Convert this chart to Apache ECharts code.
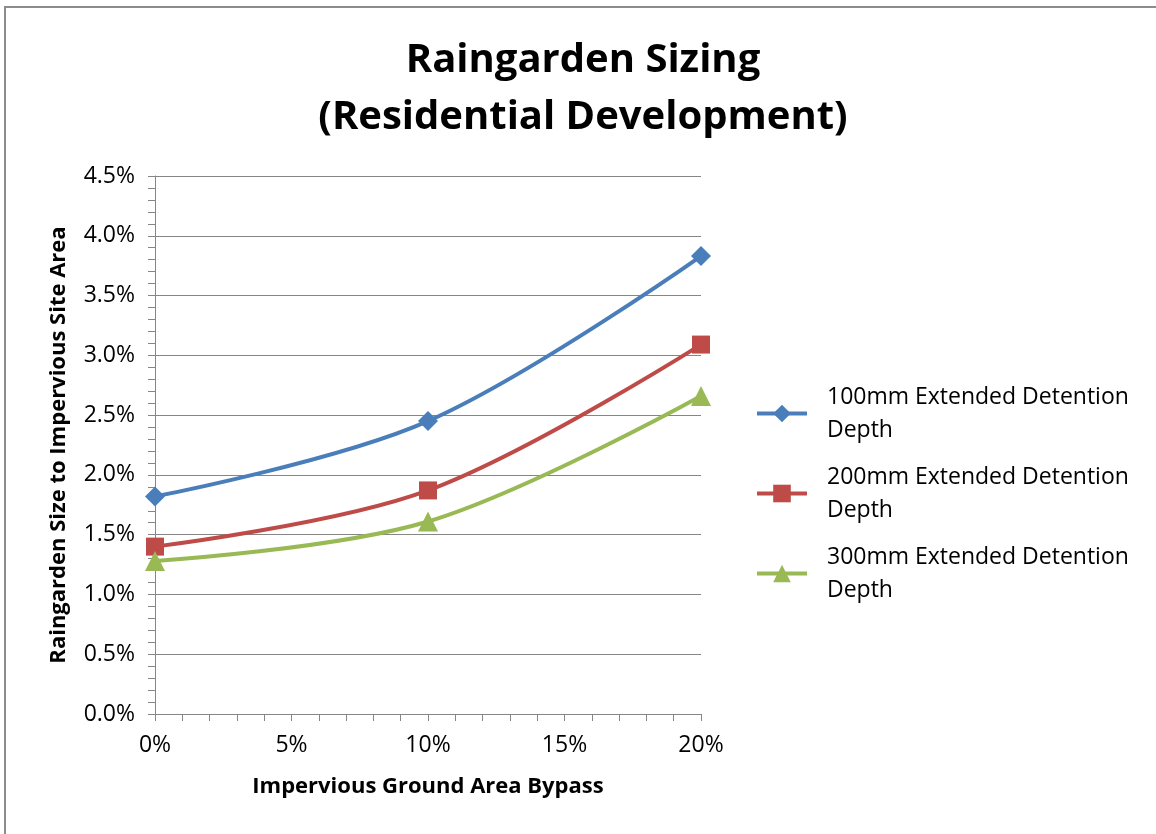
<!DOCTYPE html>
<html>
<head>
<meta charset="utf-8">
<script src="https://cdn.jsdelivr.net/npm/echarts@6/dist/echarts.min.js"></script>
<style>
  html, body { margin: 0; padding: 0; background: #fff; overflow: hidden; }
  #frame { position: absolute; left: 4px; top: 6px; width: 1200px; height: 900px; border: 2px solid #8c8c8c; box-sizing: border-box; }
  #chart { position: absolute; left: 0; top: 0; width: 1156px; height: 834px; }
</style>
</head>
<body>
<div id="frame"></div>
<div id="chart"></div>
<script>
// bypass (% of impervious ground area)
const bypass = [0, 10, 20];
// raingarden size to impervious site area (%)
const depth100 = [1.82, 2.45, 3.83];
const depth200 = [1.40, 1.87, 3.09];
const depth300 = [1.28, 1.61, 2.66];
const seriesNames = [
  '100mm Extended Detention Depth',
  '200mm Extended Detention Depth',
  '300mm Extended Detention Depth'
];

const font = '"Open Sans", Lato, sans-serif';
const axisGray = '#868686';

function pairs(vals) {
  return bypass.map((x, i) => [x, vals[i]]);
}

let myChart = echarts.init(document.getElementById('chart'));
let option = {
  backgroundColor: 'transparent',
  textStyle: { fontFamily: font },
  title: {
    text: 'Raingarden Sizing\n(Residential Development)',
    left: 583,
    textAlign: 'center',
    top: 32,
    padding: 0,
    textStyle: { fontFamily: font, fontSize: 40, fontWeight: 'bold', color: '#000', lineHeight: 57 }
  },
  legend: {
    orient: 'vertical',
    left: 750,
    top: 359,
    itemWidth: 50,
    itemHeight: 22,
    itemGap: -19,
    lineStyle: { width: 4 },
    formatter: function (name) {
      return name.replace(' Depth', '\nDepth');
    },
    textStyle: { fontFamily: font, fontSize: 23, color: '#000', lineHeight: 33, padding: [33, 0, 0, 15] },
    data: seriesNames
  },
  grid: { left: 155, right: 455, top: 176, bottom: 120 },
  xAxis: {
    type: 'value',
    min: 0,
    max: 20,
    interval: 5,
    name: 'Impervious Ground Area Bypass',
    nameLocation: 'middle',
    nameGap: 62,
    nameTextStyle: { fontFamily: font, fontSize: 22, fontWeight: 'bold', color: '#000' },
    axisLine: { show: true, lineStyle: { color: axisGray, width: 1 } },
    axisTick: { show: true, length: 7, lineStyle: { color: axisGray } },
    minorTick: { show: true, splitNumber: 5, length: 7, lineStyle: { color: axisGray } },
    splitLine: { show: false },
    axisLabel: { fontFamily: font, fontSize: 23, color: '#000', margin: 20, formatter: v => v + '%' }
  },
  yAxis: {
    type: 'value',
    min: 0,
    max: 4.5,
    interval: 0.5,
    name: 'Raingarden Size to Impervious Site Area',
    nameLocation: 'middle',
    nameGap: 85,
    nameTextStyle: { fontFamily: font, fontSize: 22, fontWeight: 'bold', color: '#000' },
    axisLine: { show: true, lineStyle: { color: axisGray, width: 1 } },
    axisTick: { show: true, length: 7, lineStyle: { color: axisGray } },
    minorTick: { show: true, splitNumber: 5, length: 7, lineStyle: { color: axisGray } },
    splitLine: { show: true, lineStyle: { color: axisGray, width: 1 } },
    axisLabel: { fontFamily: font, fontSize: 23, color: '#000', margin: 20, formatter: v => v.toFixed(1) + '%' }
  },
  series: [
    {
      name: seriesNames[0],
      type: 'line',
      smooth: 0.35,
      data: pairs(depth100),
      symbol: 'diamond',
      symbolSize: 20,
      color: '#4A7EBB',
      lineStyle: { width: 4 }
    },
    {
      name: seriesNames[1],
      type: 'line',
      smooth: 0.35,
      data: pairs(depth200),
      symbol: 'rect',
      symbolSize: 18,
      color: '#BE4B48',
      lineStyle: { width: 4 }
    },
    {
      name: seriesNames[2],
      type: 'line',
      smooth: 0.35,
      data: pairs(depth300),
      symbol: 'triangle',
      symbolSize: 20,
      color: '#98B954',
      lineStyle: { width: 4 }
    }
  ],
  animation: false
};
myChart.setOption(option);
</script>
</body>
</html>
